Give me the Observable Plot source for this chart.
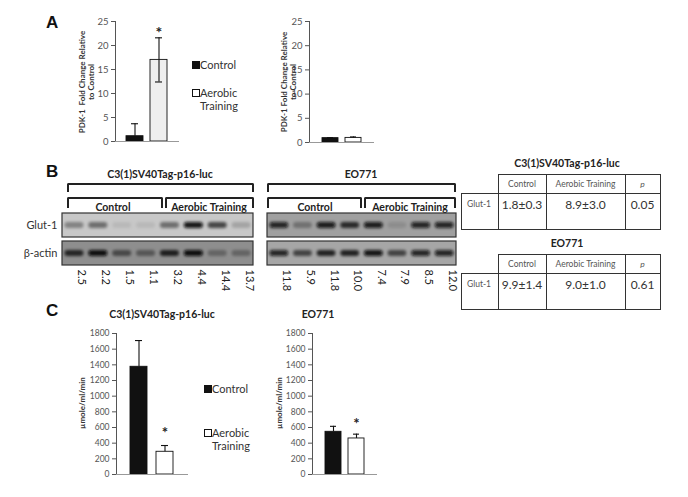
<!DOCTYPE html>
<html><head><meta charset="utf-8">
<script src="https://cdn.jsdelivr.net/npm/d3@7"></script>
<script src="https://cdn.jsdelivr.net/npm/@observablehq/plot@0.6"></script>
<style>
body{margin:0;background:#fff;font-family:Lato,"Liberation Sans",sans-serif;}
#root{position:relative;width:688px;height:497px;overflow:hidden;background:#fff;}
.letter{font-family:"Liberation Sans",Arial,sans-serif;font-weight:bold;font-size:17px;color:#111;white-space:nowrap;}
.ttl{font-weight:bold;font-size:10.5px;color:#222;transform:translate(-50%,-50%);white-space:nowrap;}
.vl{transform:translate(-50%,-50%) rotate(-90deg);text-align:center;font-weight:bold;color:#333;line-height:1.15;white-space:nowrap;}
.leg{font-size:11px;color:#333;line-height:13px;white-space:nowrap;}
.sw{position:absolute;width:6px;height:6px;border:1px solid #111;}
.bk{position:absolute;border:2px solid #222;border-bottom:none;border-radius:2px 2px 0 0;}
table.t{position:absolute;border-collapse:collapse;color:#333;}
table.t td{border:1.2px solid #333;text-align:center;padding:0;}
table.t td.h{font-size:8.5px;color:#555;height:18px;vertical-align:middle;}
table.t td.b{font-size:12px;height:32px;vertical-align:top;padding-top:3px;}
table.t td.rl{font-size:8.5px;color:#555;vertical-align:top;padding-top:5px;text-align:left;padding-left:5px;}
table.t td.e{border:none;}
</style></head><body><div id="root"></div>
<script>
// ---------- data ----------
const groups = ["Control", "Aerobic Training"];
// Panel A: PDK-1 fold change relative to control
const pdkC3 = [1.1, 17.0];
const pdkC3Err = [2.6, 4.6];
const pdkEO = [0.9, 0.95];
const pdkEOErr = [0.1, 0.2];
const pdkTicks = [0, 5, 10, 15, 20, 25];
const pdkSigC3 = [false, true];
const pdkSigEO = [false, false];
// Panel B: western blots (band darkness 0..1) and Glut-1/β-actin ratios
const laneGroups = ["Control", "Aerobic Training"];
const glutC3 = [0.35, 0.45, 0.08, 0.08, 0.45, 0.95, 0.65, 0.18];
const actinC3 = [0.75, 1.0, 0.5, 0.4, 0.8, 1.0, 0.3, 0.3];
const glutEO = [0.85, 0.3, 0.9, 0.75, 0.9, 0.12, 0.85, 0.85];
const actinEO = [0.85, 0.6, 0.8, 0.8, 0.95, 0.6, 0.85, 0.85];
const ratioC3 = ["2.5", "2.2", "1.5", "1.1", "3.2", "4.4", "14.4", "13.7"];
const ratioEO = ["11.8", "5.9", "11.8", "10.0", "7.4", "7.9", "8.5", "12.0"];
const tableCols = ["Control", "Aerobic Training", "p"];
const tableC3 = ["1.8±0.3", "8.9±3.0", "0.05"];
const tableEO = ["9.9±1.4", "9.0±1.0", "0.61"];
// Panel C: lactate (µmole/ml/min)
const lacC3 = [1375, 290];
const lacC3Err = [335, 80];
const lacEO = [545, 460];
const lacEOErr = [70, 55];
const lacTicks = [0, 200, 400, 600, 800, 1000, 1200, 1400, 1600, 1800];
const lacSig = [false, true];

const root = document.getElementById("root");
function put(el, left, top) { el.style.position = "absolute"; el.style.left = left + "px"; el.style.top = top + "px"; root.appendChild(el); return el; }
function div(cls, html, left, top, extra) { const d = document.createElement("div"); d.className = cls; d.innerHTML = html; if (extra) Object.assign(d.style, extra); return put(d, left, top); }

function barChart(o) {
  const data = groups.map((g, i) => ({
    g, v: o.values[i], hi: o.values[i] + o.errs[i],
    lo: o.lowerErr[i] ? o.values[i] - o.errs[i] : o.values[i],
    sig: o.sig[i], fill: o.fills[i]
  }));
  const p = Plot.plot({
    width: o.width, height: o.height,
    marginLeft: o.mL, marginTop: o.mT, marginBottom: o.mB, marginRight: o.mR,
    style: { fontFamily: "Lato, sans-serif", fontSize: o.tickFont + "px", color: "#555", background: "transparent", overflow: "visible" },
    x: { domain: groups, paddingInner: o.pI, paddingOuter: o.pO, axis: null },
    y: { domain: [0, o.max], ticks: o.ticks, tickSize: 4, tickPadding: 3, tickFormat: d => String(d), line: true, label: null },
    marks: [
      Plot.barY(data, { x: "g", y: "v", fill: "fill", stroke: "#111", strokeWidth: 0.9 }),
      Plot.ruleX(data, { x: "g", y1: "lo", y2: "hi", stroke: "#111", strokeWidth: 1.1 }),
      Plot.tickY(data, { x: "g", y: "hi", insetLeft: o.cap, insetRight: o.cap, stroke: "#111", strokeWidth: 1.1 }),
      Plot.tickY(data.filter(d => d.lo < d.v), { x: "g", y: "lo", insetLeft: o.cap, insetRight: o.cap, stroke: "#111", strokeWidth: 1.1 }),
      Plot.text(data.filter(d => d.sig), { x: "g", y: "hi", text: () => "*", dy: o.starDy, fontSize: o.starFont, fontWeight: "bold", fill: "#222" }),
      Plot.ruleY([0], { stroke: "#999" })
    ]
  });
  put(p, o.left, o.top);
}

function blot(o) {
  const rows = ["Glut-1", "β-actin"];
  const lanes = d3.range(8);
  const bands = [...lanes.map(i => ({ row: rows[0], lane: i, v: o.glut[i] })), ...lanes.map(i => ({ row: rows[1], lane: i, v: o.actin[i] }))];
  const p = Plot.plot({
    width: o.width, height: 82, marginLeft: o.mL, marginRight: o.mR, marginTop: 3, marginBottom: 26,
    style: { fontFamily: "Lato, sans-serif", fontSize: "11px", color: "#333", background: "transparent", overflow: "visible" },
    x: { domain: [0, 8], axis: null },
    y: { domain: rows, paddingInner: 0.14, paddingOuter: 0, axis: o.labels ? "left" : null, tickSize: 0, tickPadding: 5, label: null },
    opacity: { domain: [0, 1], range: [0, 1] },
    marks: [
      Plot.barX(rows.map((r, i) => ({ r, bg: o.bg[i] })), { x1: 0, x2: 8, y: "r", fill: "bg", stroke: "#333", strokeWidth: 1.2 }),
      Plot.barX(bands, { x1: d => d.lane + 0.1, x2: d => d.lane + 0.9, y: "row", fill: "#080808", fillOpacity: "v", insetTop: 9, insetBottom: 9, rx: 3 }),
      Plot.text(lanes, { x: i => i + 0.5, text: i => o.ratios[i], frameAnchor: "bottom", dy: 3, dx: 4, rotate: 90, textAnchor: "start", fontSize: 11, fill: "#222" })
    ]
  });
  const svg = d3.select(p);
  const id = "blur" + Math.round(o.left);
  svg.insert("defs", ":first-child").append("filter").attr("id", id).attr("x", "-30%").attr("y", "-60%").attr("width", "160%").attr("height", "220%")
    .append("feGaussianBlur").attr("stdDeviation", 1.4);
  const bars = svg.selectAll("g[aria-label='bar']").nodes();
  if (bars[1]) bars[1].setAttribute("filter", `url(#${id})`);
  put(p, o.left, o.top);
}

function bracket(x1, x2, y, h) { const d = document.createElement("div"); d.className = "bk"; d.style.width = (x2 - x1 - 4) + "px"; d.style.height = h + "px"; put(d, x1, y); }

function table(title, vals, left, top, titleTop) {
  div("ttl", title, 567, titleTop);
  const t = document.createElement("table"); t.className = "t";
  const w = [36, 47, 78, 34];
  let h = "<tr><td class='e' style='width:" + w[0] + "px'></td>";
  tableCols.forEach((c, i) => { h += `<td class='h' style='width:${w[i + 1]}px'>${c === "p" ? "<i>p</i>" : c}</td>`; });
  h += "</tr><tr><td class='rl'>Glut-1</td>";
  vals.forEach(v => { h += `<td class='b'>${v}</td>`; });
  h += "</tr>";
  t.innerHTML = h;
  put(t, left, top);
}

// ---------- Panel A ----------
div("letter", "A", 46, 13);
barChart({ values: pdkC3, errs: pdkC3Err, lowerErr: [false, true], sig: pdkSigC3, fills: ["#111", "#efefef"],
  ticks: pdkTicks, max: 25, left: 60, top: 10, width: 130, height: 145, mL: 55, mT: 11, mB: 14, mR: 11,
  pI: 0.28, pO: 0.44, cap: 5, starDy: -5, starFont: 16, tickFont: 9.5 });
barChart({ values: pdkEO, errs: pdkEOErr, lowerErr: [false, false], sig: pdkSigEO, fills: ["#111", "#fff"],
  ticks: pdkTicks, max: 25, left: 260, top: 10, width: 124, height: 145, mL: 49, mT: 11, mB: 13, mR: 10,
  pI: 0.29, pO: 0.5, cap: 5, starDy: -5, starFont: 16, tickFont: 9.5 });
div("vl", "PDK-1&nbsp; Fold Change Relative<br>to Control", 87, 82, { fontSize: "8px" });
div("vl", "PDK-1 Fold Change Relative<br>to Control", 289, 82, { fontSize: "8px" });
// legend A
div("sw", "", 192, 61, { background: "#111" });
div("leg", "Control", 200, 58);
div("sw", "", 192, 89, { background: "#fff" });
div("leg", "Aerobic<br>Training", 200, 86);

// ---------- Panel B ----------
div("letter", "B", 46, 162);
div("ttl", "C3(1)SV40Tag-p16-luc", 160, 174);
div("ttl", "EO771", 361, 174);
bracket(67, 254, 183, 7);
bracket(67, 163, 197, 9);
bracket(165, 254, 197, 9);
bracket(267, 456, 183, 7);
bracket(267, 362, 197, 9);
bracket(364, 456, 197, 9);
div("ttl", laneGroups[0], 113, 207);
div("ttl", laneGroups[1], 209, 207);
div("ttl", laneGroups[0], 315, 207);
div("ttl", laneGroups[1], 410, 207);
blot({ glut: glutC3, actin: actinC3, ratios: ratioC3, left: 0, top: 210, width: 260, mL: 62, mR: 7, labels: true, bg: ["#c8c8c8", "#8e8e8e"] });
blot({ glut: glutEO, actin: actinEO, ratios: ratioEO, left: 260, top: 210, width: 203, mL: 7, mR: 7, labels: false, bg: ["#a0a0a0", "#a6a6a6"] });
table("C3(1)SV40Tag-p16-luc", tableC3, 461, 174, 163);
table("EO771", tableEO, 461, 254, 243);

// ---------- Panel C ----------
div("letter", "C", 46, 301);
div("ttl", "C3(1)SV40Tag-p16-luc", 162, 314);
div("ttl", "EO771", 318, 314);
barChart({ values: lacC3, errs: lacC3Err, lowerErr: [false, false], sig: lacSig, fills: ["#111", "#fff"],
  ticks: lacTicks, max: 1800, left: 60, top: 320, width: 138, height: 165, mL: 56, mT: 13, mB: 11, mR: 10,
  pI: 0.33, pO: 0.52, cap: 5, starDy: -12, starFont: 15, tickFont: 8.5 });
barChart({ values: lacEO, errs: lacEOErr, lowerErr: [false, false], sig: lacSig, fills: ["#111", "#fff"],
  ticks: lacTicks, max: 1800, left: 260, top: 320, width: 127, height: 165, mL: 52, mT: 13, mB: 11, mR: 10,
  pI: 0.29, pO: 0.54, cap: 5, starDy: -10, starFont: 15, tickFont: 8.5 });
div("vl", "µmole/ml/min", 83, 403, { fontSize: "8px" });
div("vl", "µmole/ml/min", 280, 403, { fontSize: "8px" });
div("sw", "", 204, 385, { background: "#111" });
div("leg", "Control", 212, 382);
div("sw", "", 204, 429, { background: "#fff" });
div("leg", "Aerobic<br>Training", 212, 426);
</script></body></html>
